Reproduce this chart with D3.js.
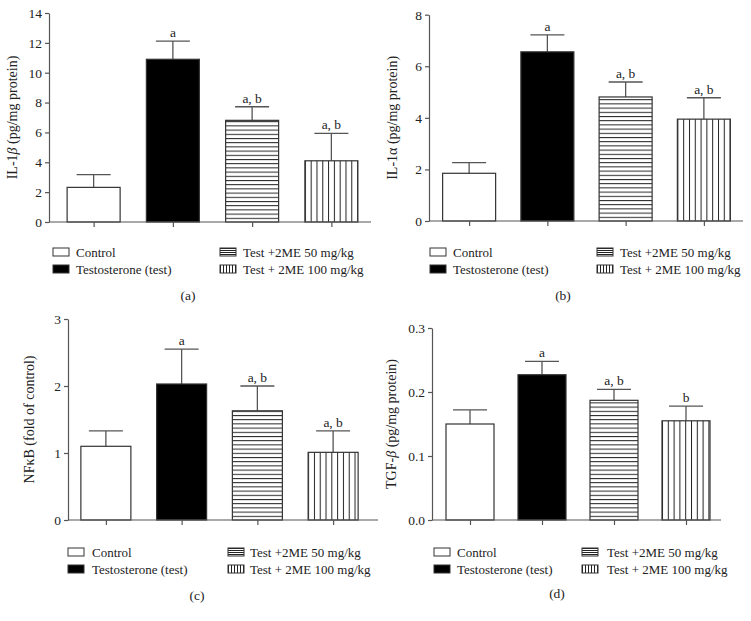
<!DOCTYPE html>
<html><head><meta charset="utf-8">
<script src="https://cdn.jsdelivr.net/npm/d3@7"></script>
<style>
body{margin:0;background:#fff;}
svg{display:block;font-family:"Liberation Serif","DejaVu Serif",serif;}
</style></head>
<body><svg id="c" width="751" height="621"></svg>
<script>
// ---- data ----
const groups = ["Control", "Testosterone (test)", "Test +2ME 50 mg/kg", "Test + 2ME 100 mg/kg"];
const il1bMean = [2.32, 10.9, 6.81, 4.1];
const il1bSem  = [0.85, 1.22, 0.91, 1.84];
const il1bSig  = ["", "a", "a, b", "a, b"];
const il1bTicks = [0, 2, 4, 6, 8, 10, 12, 14];

const il1aMean = [1.85, 6.56, 4.81, 3.95];
const il1aSem  = [0.41, 0.66, 0.58, 0.83];
const il1aSig  = ["", "a", "a, b", "a, b"];
const il1aTicks = [0, 2, 4, 6, 8];

const nfkbMean = [1.10, 2.03, 1.63, 1.01];
const nfkbSem  = [0.23, 0.52, 0.37, 0.32];
const nfkbSig  = ["", "a", "a, b", "a, b"];
const nfkbTicks = [0, 1, 2, 3];

const tgfbMean = [0.150, 0.227, 0.187, 0.155];
const tgfbSem  = [0.022, 0.021, 0.017, 0.023];
const tgfbSig  = ["", "a", "a, b", "b"];
const tgfbTicks = [0, 0.1, 0.2, 0.3];

const panelLetters = ["(a)", "(b)", "(c)", "(d)"];

// ---- layout ----
const svg = d3.select("#c");
const TFS = 13.5, YFS = 14, LFS = 13, SFS = 13.5, CFS = 13.5;
const ink = "#222", axisCol = "#555", barStroke = "#333";
const defs = svg.append("defs");

const panels = [
  {mean: il1bMean, sem: il1bSem, sig: il1bSig, ticks: il1bTicks, fmt: d3.format("d"), max: 14,
   label: [["IL-1", false], ["β", true], [" (pg/mg protein)", false]],
   ax: 49, x0: 54, x1: 371, xEnd: 371, yTop: 13, y0: 222, bw: 53, labX: 17,
   leg: {y: 252, sx: 53, tx: 76, sx2: 220, tx2: 243}, cap: {x: 188, y: 300}},
  {mean: il1aMean, sem: il1aSem, sig: il1aSig, ticks: il1aTicks, fmt: d3.format("d"), max: 8,
   label: [["IL-1α (pg/mg protein)", false]],
   ax: 429, x0: 430, x1: 743, xEnd: 743, yTop: 14.7, y0: 221, bw: 53, labX: 397,
   leg: {y: 252, sx: 430, tx: 453, sx2: 597, tx2: 620}, cap: {x: 563, y: 300}},
  {mean: nfkbMean, sem: nfkbSem, sig: nfkbSig, ticks: nfkbTicks, fmt: d3.format("d"), max: 3,
   label: [["NFκB (fold of control)", false]],
   ax: 68, x0: 68, x1: 371, xEnd: 378, yTop: 319, y0: 520, bw: 50, labX: 34,
   leg: {y: 552, sx: 68, tx: 92, sx2: 228, tx2: 250}, cap: {x: 197, y: 600}},
  {mean: tgfbMean, sem: tgfbSem, sig: tgfbSig, ticks: tgfbTicks, fmt: d3.format(".1f"), max: 0.3,
   label: [["TGF-", false], ["β", true], [" (pg/mg protein)", false]],
   ax: 432, x0: 434, x1: 722, xEnd: 721, yTop: 328, y0: 520, bw: 48, labX: 396,
   leg: {y: 552, sx: 434, tx: 457, sx2: 582, tx2: 607}, cap: {x: 557, y: 598}}
];

function makePattern(id, kind, x0, y0, sp) {
  const p = defs.append("pattern").attr("id", id).attr("patternUnits", "userSpaceOnUse")
    .attr("x", x0).attr("y", y0)
    .attr("width", kind === "h" ? 10 : sp).attr("height", kind === "h" ? sp : 10);
  p.append("rect").attr("width", 10).attr("height", 10).attr("fill", "#fff");
  if (kind === "h") p.append("line").attr("x1", 0).attr("x2", 10).attr("y1", 0.5).attr("y2", 0.5)
      .attr("stroke", "#222").attr("stroke-width", 1);
  else p.append("line").attr("y1", 0).attr("y2", 10).attr("x1", 0.5).attr("x2", 0.5)
      .attr("stroke", "#222").attr("stroke-width", 1);
}

function legendSwatch(g, i, x, y, id) {
  const w = 16, h = 8;
  const r = g.append("rect").attr("x", x).attr("y", y - h / 2).attr("width", w).attr("height", h)
    .attr("stroke", barStroke).attr("stroke-width", 1);
  if (i === 0) r.attr("fill", "#fff");
  else if (i === 1) r.attr("fill", "#000");
  else {
    makePattern(id, i === 2 ? "h" : "v", x, y - h / 2, i === 2 ? 2 : 3);
    r.attr("fill", `url(#${id})`);
  }
}

panels.forEach((P, pi) => {
  const g = svg.append("g");
  const y = d3.scaleLinear().domain([0, P.max]).range([P.y0, P.yTop]);
  const x = d3.scalePoint().domain(groups).range([P.x0, P.x1]).padding(0.5);

  groups.forEach((grp, i) => {
    const cx = x(grp), bx = cx - P.bw / 2, top = y(P.mean[i]);
    let fill = "#fff";
    if (i === 1) fill = "#000";
    if (i >= 2) {
      const id = `pat${pi}_${i}`;
      makePattern(id, i === 2 ? "h" : "v", bx, P.y0, i === 2 ? 4.2 : 5.8);
      fill = `url(#${id})`;
    }
    const et = y(P.mean[i] + P.sem[i]);
    g.append("line").attr("x1", cx).attr("x2", cx).attr("y1", top).attr("y2", et)
      .attr("stroke", axisCol).attr("stroke-width", 1.3);
    g.append("line").attr("x1", cx - 17).attr("x2", cx + 17).attr("y1", et).attr("y2", et)
      .attr("stroke", axisCol).attr("stroke-width", 1.3);
    g.append("rect").attr("x", bx).attr("y", top).attr("width", P.bw).attr("height", P.y0 - top)
      .attr("fill", fill).attr("stroke", barStroke).attr("stroke-width", 1.2);
    if (P.sig[i]) g.append("text").attr("x", cx).attr("y", et - 4).attr("text-anchor", "middle")
      .attr("font-size", SFS).attr("fill", ink).text(P.sig[i]);
  });

  const ya = g.append("g").attr("transform", `translate(${P.ax},0)`)
    .call(d3.axisLeft(y).tickValues(P.ticks).tickFormat(P.fmt).tickSize(4).tickPadding(3).tickSizeOuter(0));
  ya.select(".domain").attr("stroke", axisCol).attr("stroke-width", 1.2);
  ya.selectAll(".tick line").attr("stroke", axisCol).attr("stroke-width", 1.2);
  ya.selectAll("text").attr("font-size", TFS).attr("fill", ink).attr("font-family", "Liberation Serif");

  g.append("line").attr("x1", P.ax).attr("x2", P.xEnd).attr("y1", P.y0).attr("y2", P.y0)
    .attr("stroke", axisCol).attr("stroke-width", 1.2);
  const xa = g.append("g").attr("transform", `translate(0,${P.y0})`)
    .call(d3.axisBottom(x).tickSize(5).tickFormat(""));
  xa.select(".domain").remove();
  xa.selectAll(".tick line").attr("stroke", axisCol).attr("stroke-width", 1.2);

  const lab = g.append("text").attr("transform", `translate(${P.labX},${(P.y0 + P.yTop) / 2}) rotate(-90)`)
    .attr("text-anchor", "middle").attr("font-size", YFS).attr("fill", ink);
  P.label.forEach(([t, it]) => lab.append("tspan").attr("font-style", it ? "italic" : "normal").text(t));

  const L = P.leg, rowH = 17;
  [[0, L.sx, L.tx, L.y], [1, L.sx, L.tx, L.y + rowH], [2, L.sx2, L.tx2, L.y], [3, L.sx2, L.tx2, L.y + rowH]]
    .forEach(([i, sx, tx, yy]) => {
      legendSwatch(g, i, sx, yy, `leg${pi}_${i}`);
      g.append("text").attr("x", tx).attr("y", yy).attr("dy", "0.35em").attr("font-size", LFS)
        .attr("fill", ink).text(groups[i]);
    });

  g.append("text").attr("x", P.cap.x).attr("y", P.cap.y).attr("text-anchor", "middle")
    .attr("font-size", CFS).attr("fill", ink).text(panelLetters[pi]);
});
</script></body></html>
